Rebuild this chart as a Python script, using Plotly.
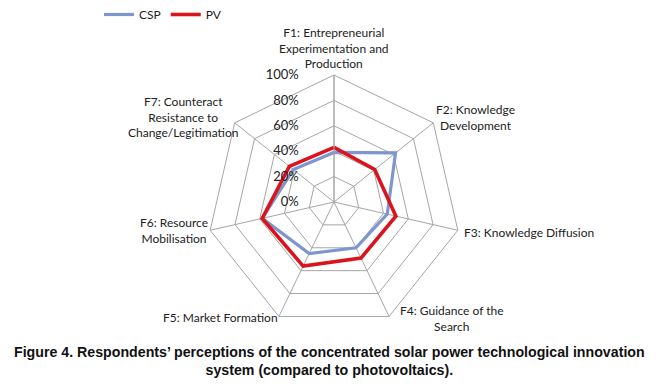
import plotly.graph_objects as go

categories = ["F1", "F2", "F3", "F4", "F5", "F6", "F7"]
category_labels = [
    "F1: Entrepreneurial<br>Experimentation and<br>Production",
    "F2: Knowledge<br>Development",
    "F3: Knowledge Diffusion",
    "F4: Guidance of the<br>Search",
    "F5: Market Formation",
    "F6: Resource<br>Mobilisation",
    "F7: Counteract<br>Resistance to<br>Change/Legitimation",
]
csp = [0.39, 0.62, 0.43, 0.40, 0.45, 0.58, 0.41]
pv = [0.43, 0.41, 0.50, 0.49, 0.56, 0.58, 0.45]
tick_vals = [0, 0.2, 0.4, 0.6, 0.8, 1.0]
tick_text = ["0%", "20%", "40%", "60%", "80%", "100%"]

# page body has an 8px margin; figure drawn at offset (8, 8)
OFF = 8
W, H = 640, 370
cx, cy, R = 334 - OFF, 202 - OFF, 127
grid = "#a6a6a6"
font_main = "Lato"


def px(x):
    return (x - OFF) / W


def py(y):
    return 1 - (y - OFF) / H


# radial labels are centred on the axis; invisible trailing text shifts the
# visible part to the left of the axis line, as in the reference
pad = "<span style='color:rgba(0,0,0,0)'>0000</span>"

fig = go.Figure()
fig.add_trace(go.Scatterpolar(
    r=csp + csp[:1], theta=categories + categories[:1], mode="lines",
    name="CSP", line=dict(color="#7f95cf", width=3.2)))
fig.add_trace(go.Scatterpolar(
    r=pv + pv[:1], theta=categories + categories[:1], mode="lines",
    name="PV", line=dict(color="#d9141d", width=3.6)))

fig.update_layout(
    width=W, height=H,
    margin=dict(l=0, r=0, t=0, b=0, autoexpand=False),
    paper_bgcolor="white", plot_bgcolor="white",
    font=dict(family=font_main, size=12, color="#222"),
    polar=dict(
        domain=dict(x=[(cx - R) / W, (cx + R) / W],
                    y=[1 - (cy + R) / H, 1 - (cy - R) / H]),
        bgcolor="white",
        gridshape="linear",
        angularaxis=dict(direction="clockwise", rotation=90,
                         showticklabels=False, ticks="",
                         gridcolor=grid, gridwidth=1,
                         linecolor=grid, linewidth=1, showline=True),
        radialaxis=dict(range=[0, 1], tickvals=tick_vals,
                        ticktext=[t + pad for t in tick_text],
                        angle=90, tickangle=90, side="counterclockwise",
                        showline=True, linecolor=grid, linewidth=1,
                        gridcolor=grid, gridwidth=1, ticks="",
                        tickfont=dict(family=font_main, size=13, color="#222")),
    ),
    showlegend=True,
    legend=dict(orientation="h", x=px(99), y=py(0), xanchor="left", yanchor="top",
                font=dict(family=font_main, size=12), itemwidth=30,
                bgcolor="rgba(0,0,0,0)", tracegroupgap=0),
)

label_pos = [
    (334, 48, "center"),
    (475, 117, "center"),
    (462, 232, "left"),
    (452, 318, "center"),
    (220, 317, "center"),
    (174, 230, "center"),
    (183, 117, "center"),
]
for text, (x, y, al) in zip(category_labels, label_pos):
    fig.add_annotation(x=px(x), y=py(y), xref="paper", yref="paper",
                       text=text, showarrow=False, align="center",
                       xanchor=al, yanchor="middle",
                       font=dict(family=font_main, size=12, color="#222"))

fig.add_annotation(
    x=px(329), y=py(361), xref="paper", yref="paper", showarrow=False,
    text="<b>Figure 4. Respondents’ perceptions of the concentrated solar power technological innovation<br>system (compared to photovoltaics).</b>",
    align="center", xanchor="center", yanchor="middle",
    font=dict(family="Liberation Sans Narrow, Liberation Sans, Arial", size=14.2, color="#111"))

fig.write_html("out.html")
